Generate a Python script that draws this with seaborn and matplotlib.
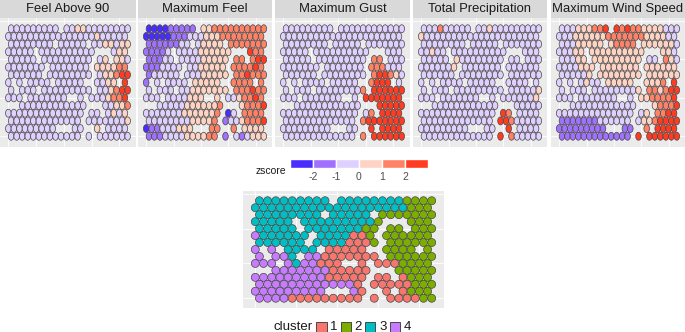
import matplotlib

matplotlib.use("Agg")
import matplotlib.pyplot as plt
import pandas as pd
import seaborn as sns
from matplotlib.markers import MarkerStyle
from matplotlib.patches import Rectangle
from matplotlib.path import Path
from matplotlib.transforms import Affine2D

# one string per grid row, one char per column, "." = no spot
# zscore bins: 0 = below -2 ... 5 = above 2
FEEL_ABOVE_90 = [
    "222222222.223322222222",
    "2222222222222222322222",
    "22222222.22222.2233233",
    "22222.2222222222...233",
    "22222.222222222.23.332",
    "2222222.2222222.333344",
    "222222.22222222.233455",
    "2.2.2222.22222..2233.5",
    "2.222.222222222.223455",
    "222.2222222..2.2223445",
    "..222222222222...22334",
    "22222222222222.22.2323",
    "2222222222222.22222223",
    "222222222...22..3.2222",
    "2222222222222.2.222222",
]
MAXIMUM_FEEL = [
    "000011111.334444444444",
    "0000011122233344444444",
    "11111122.23333.4444444",
    "11112.2222333333...544",
    "11122.222233333.44.455",
    "1112222.2233333.444454",
    "122222.22233333.445444",
    "1.2.2222.33333..4444.4",
    "2.222.223333333.444544",
    "222.2222333..3.2234454",
    "..222223333334...34445",
    "22222223333334.02.4444",
    "2222222233334.12234445",
    "011222333...44..4.3333",
    "1112222333344.1.212333",
]
MAXIMUM_GUST = [
    "222222222.222222222222",
    "2222222222222222222222",
    "22222222.22222.2222222",
    "22222.2222222222...222",
    "22222.222222222.44.222",
    "2222222.2222222.444222",
    "222222.22222222.455432",
    "2.2.2222.22222..4555.2",
    "2.222.222222224.555555",
    "222.2222222..2.5555555",
    "..222222222222...55555",
    "22222222222222.24.5555",
    "2222222222222.45555555",
    "222222222...22..5.5555",
    "2222222222222.4.555555",
]
TOTAL_PRECIPITATION = [
    "222422222.223222222222",
    "3222222222222222222222",
    "22222222.22222.2222222",
    "22322.2222222222...222",
    "22222.322222222.22.222",
    "2222223.2222222.222222",
    "222222.22222222.222222",
    "2.2.2222.22222..2222.2",
    "2.222.222222222.222223",
    "222.2222222..2.2222223",
    "..222222222222...22222",
    "22222222222222.54.2222",
    "2222222222222.55422222",
    "222222222...22..5.2222",
    "2222222222222.5.422222",
]
MAXIMUM_WIND_SPEED = [
    "222333445.545443333222",
    "2223333334444444333322",
    "22233333.34444.3333332",
    "22233.3333333333...332",
    "22233.333333333.22.432",
    "2222333.3333333.333333",
    "222223.33333333.333333",
    "2.2.2322.33333..3334.5",
    "2.222.222222223.443455",
    "222.2222222..2.3344445",
    "..222222222222...34445",
    "22222222222222.23.4455",
    "1111111222222.23345555",
    "111111111...11..4.5555",
    "1111111111111.5.555555",
]
CLUSTERS = [
    "333333333.333333332222",
    "3333333333333333333222",
    "33333333.33333.2222222",
    "33333.3333333332...222",
    "33333.333333322.22.222",
    "4333333.3333112.222222",
    "333333.33331112.222222",
    "4.4.3333.11111..2222.2",
    "4.443.441111111.222222",
    "444.4344111..1.1112222",
    "..444444411111...22222",
    "44444444411111.11.1222",
    "4444444444441.11111222",
    "444444444...41..1.1222",
    "4444111111111.1.111122",
]
PANEL_TITLES = [
    "Feel Above 90",
    "Maximum Feel",
    "Maximum Gust",
    "Total Precipitation",
    "Maximum Wind Speed",
]
PANEL_ROWS = [
    FEEL_ABOVE_90,
    MAXIMUM_FEEL,
    MAXIMUM_GUST,
    TOTAL_PRECIPITATION,
    MAXIMUM_WIND_SPEED,
]
ZSCORE_TICKS = [-2, -1, 0, 1, 2]
ZSCORE_COLORS = ["#4B2CFF", "#A070FF", "#E0D0FF", "#FFD3C4", "#FF8266", "#FF3B22"]
CLUSTER_LABELS = ["1", "2", "3", "4"]
CLUSTER_COLORS = ["#F8766D", "#7CAE00", "#00BFC4", "#C77CFF"]

###############
# PLOT CONFIG #
###############
WIDTH = 685
HEIGHT = 332
DPI = 100
FONT = "Liberation Sans"
PANEL_BG = "#EBEBEB"
STRIP_BG = "#D9D9D9"
TEXT_DARK = "#1A1A1A"
TICK_TEXT = "#4D4D4D"
SPOT_EDGE = "#444444"
# left, right in pixels
PANEL_X = [(0, 136), (138, 272), (275, 410), (413, 547), (551, 685)]
PANEL_TOP, PANEL_BOTTOM = 18, 147
CLUSTER_BOX = (243, 444, 191, 308)

sns.set_theme(style="white")
plt.rcParams["font.family"] = [FONT, "DejaVu Sans"]
plt.rcParams["axes.unicode_minus"] = False


def px_axes(fig, left, right, top, bottom):
    """Add axes placed by pixel edges, y counted from the top of the image."""
    return fig.add_axes(
        [left / WIDTH, 1 - bottom / HEIGHT, (right - left) / WIDTH, (bottom - top) / HEIGHT]
    )


def rows_to_df(rows):
    cells = []
    for r, row in enumerate(rows):
        for c, ch in enumerate(row):
            if ch != ".":
                # even rows sit half a step to the right
                cells.append(
                    {"x": c + (0.5 if r % 2 == 0 else 0), "y": 14 - r, "value": ch}
                )
    return pd.DataFrame(cells)


def draw_spots(ax, rows, palette, marker, size):
    sns.scatterplot(
        data=rows_to_df(rows),
        x="x",
        y="y",
        hue="value",
        palette=palette,
        marker=marker,
        s=size,
        edgecolor=SPOT_EDGE,
        linewidth=0.5,
        legend=False,
        ax=ax,
        zorder=3,
    )
    ax.set(xlim=(-1.5, 23), ylim=(-1.4, 15.4), xlabel="", ylabel="")
    ax.set_facecolor(PANEL_BG)
    ax.set_xticks([0, 5, 10, 15, 20])
    ax.set_yticks([0, 5, 10, 15])
    ax.tick_params(length=0, labelbottom=False, labelleft=False)
    ax.grid(color="white", lw=0.6)
    ax.set_axisbelow(True)
    sns.despine(ax=ax, left=True, bottom=True)


def add_text(fig, x, y, s, **kwargs):
    fig.text(x / WIDTH, 1 - y / HEIGHT, s, va="center", **kwargs)


fig = plt.figure(figsize=(WIDTH / DPI, HEIGHT / DPI), dpi=DPI)

ellipse = Path.unit_circle().transformed(Affine2D().scale(0.7, 1.0))
spot_marker = MarkerStyle(ellipse)
zscore_palette = {str(i): color for i, color in enumerate(ZSCORE_COLORS)}

for (left, right), title, rows in zip(PANEL_X, PANEL_TITLES, PANEL_ROWS):
    ax = px_axes(fig, left, right, PANEL_TOP, PANEL_BOTTOM)
    draw_spots(ax, rows, zscore_palette, spot_marker, 33)
    fig.add_artist(
        Rectangle(
            (left / WIDTH, 1 - PANEL_TOP / HEIGHT),
            (right - left) / WIDTH,
            PANEL_TOP / HEIGHT,
            transform=fig.transFigure,
            facecolor=STRIP_BG,
            edgecolor="none",
        )
    )
    add_text(
        fig, (left + right) / 2, 9, title, ha="center", fontsize=9.4, color=TEXT_DARK
    )

# zscore colour legend
bar_ax = px_axes(fig, 290, 428, 159, 168)
bin_edges = [ZSCORE_TICKS[0] - 1] + ZSCORE_TICKS
bar_ax.barh(
    [0] * len(ZSCORE_COLORS),
    [1] * len(ZSCORE_COLORS),
    left=bin_edges,
    height=1,
    color=ZSCORE_COLORS,
)
bar_ax.set_xlim(ZSCORE_TICKS[0] - 1, ZSCORE_TICKS[-1] + 1)
bar_ax.set_ylim(-0.5, 0.5)
bar_ax.set_yticks([])
bar_ax.set_xticks(ZSCORE_TICKS)
bar_ax.tick_params(axis="x", length=0, pad=3, labelsize=7.5, labelcolor=TICK_TEXT)
sns.despine(ax=bar_ax, left=True, bottom=True)
add_text(fig, 256, 171, "zscore", ha="left", fontsize=7.5, color=TEXT_DARK)

# cluster map
left, right, top, bottom = CLUSTER_BOX
ax = px_axes(fig, left, right, top, bottom)
cluster_palette = dict(zip(CLUSTER_LABELS, CLUSTER_COLORS))
draw_spots(ax, CLUSTERS, cluster_palette, "o", 33)

# cluster legend
add_text(fig, 273, 327, "cluster", ha="left", fontsize=9.5, color=TEXT_DARK)
for i, (label, color) in enumerate(zip(CLUSTER_LABELS, CLUSTER_COLORS)):
    box_left = 316 + i * 24.5
    fig.add_artist(
        Rectangle(
            (box_left / WIDTH, 1 - 332 / HEIGHT),
            10.5 / WIDTH,
            10.5 / HEIGHT,
            transform=fig.transFigure,
            facecolor=color,
            edgecolor="#333333",
            lw=0.6,
        )
    )
    add_text(fig, box_left + 14, 327, label, ha="left", fontsize=9.5, color=TEXT_DARK)

fig.savefig("out.png", dpi=DPI)
